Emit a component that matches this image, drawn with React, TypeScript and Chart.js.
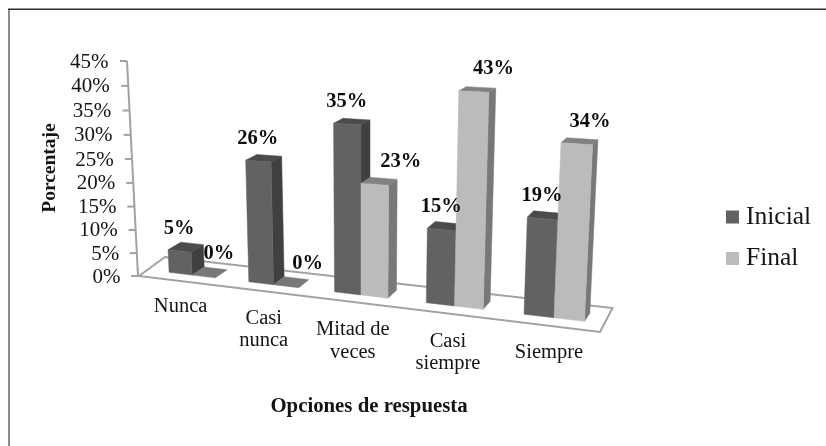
import React, { useEffect, useRef } from "react";
import { Chart, BarController, BarElement, CategoryScale, LinearScale } from "chart.js";

const categories: string[][] = [["Nunca"], ["Casi", "nunca"], ["Mitad de", "veces"], ["Casi", "siempre"], ["Siempre"]];
const inicialValues = [5, 26, 35, 15, 19];
const finalValues = [0, 0, 23, 43, 34];
const yTicks = [0, 5, 10, 15, 20, 25, 30, 35, 40, 45];

const FONT = '"Liberation Serif", "Times New Roman", serif';
const INK = "#141414";
const AXIS = "#a2a2a2";
const SERIES = [
  { name: "Inicial", values: inicialValues, front: "#626262", side: "#404040", top: "#4b4b4b" },
  { name: "Final", values: finalValues, front: "#bbbbbb", side: "#787878", top: "#828282" },
];

/* Perspective of the picture: flat scale pixels -> oblique screen position. */
function project(chart: any, px: number, py: number, depth = 0) {
  const a = chart.chartArea;
  const u = (px - a.left) / (a.right - a.left);
  const hf = (a.bottom - py) / (a.bottom - a.top);
  const pct = hf * 45;
  const x0 = 153.5 + 377.5 * u + 75 * u * u;
  const y0 = 272 + 0.1178 * (x0 - 166);
  const h = pct * (4.5 + 0.72 * u);
  const lean = -0.05 + 0.1 * u;
  return {
    x: x0 + lean * h + depth * (13 - 8 * u),
    y: y0 - h - depth * (8 - 4 * hf),
    u,
  };
}

function face(ctx: CanvasRenderingContext2D, pts: { x: number; y: number }[], fill: string) {
  ctx.beginPath();
  pts.forEach((p, i) => (i ? ctx.lineTo(p.x, p.y) : ctx.moveTo(p.x, p.y)));
  ctx.closePath();
  ctx.fillStyle = fill;
  ctx.fill();
  ctx.strokeStyle = fill;
  ctx.lineWidth = 0.5;
  ctx.stroke();
}

class Bar3DElement extends BarElement {
  static id = "bar3d";
  draw(ctx: CanvasRenderingContext2D) {
    const { x, y, base, width, options } = (this as any).getProps(["x", "y", "base", "width", "options"]);
    const chart = Chart.getChart(ctx.canvas);
    const [front, side, top] = options.backgroundColor.split("|");
    const l = x - width / 2;
    const r = x + width / 2;
    const P = (px: number, py: number, d = 0) => project(chart, px, py, d);
    ctx.save();
    if (base - y < 0.5) {
      face(ctx, [P(l, y), P(r, y), P(r, y, 1), P(l, y, 1)], side);
    } else {
      face(ctx, [P(r, y), P(r, base), P(r, base, 1), P(r, y, 1)], side);
      face(ctx, [P(l, y), P(r, y), P(r, y, 1), P(l, y, 1)], top);
      face(ctx, [P(l, y), P(r, y), P(r, base), P(l, base)], front);
    }
    ctx.restore();
  }
}

class Bar3DController extends BarController {
  static id = "bar3d";
  static defaults = { ...BarController.defaults, dataElementType: "bar3d" };
  static overrides = BarController.overrides;
}

Chart.register(Bar3DController, Bar3DElement, BarElement, CategoryScale, LinearScale);

const scenePlugin = {
  id: "scene",
  beforeDatasetsDraw(chart: any) {
    const ctx: CanvasRenderingContext2D = chart.ctx;
    const yScale = chart.scales.y;
    ctx.save();
    // frame: only the top and left edges of the original show
    ctx.lineWidth = 2;
    ctx.strokeStyle = "#8c8c8c";
    ctx.beginPath();
    ctx.moveTo(9, 9);
    ctx.lineTo(9, 446);
    ctx.stroke();
    ctx.lineWidth = 1.5;
    ctx.strokeStyle = "#2e2e2e";
    ctx.beginPath();
    ctx.moveTo(8, 9.25);
    ctx.lineTo(826, 9.25);
    ctx.stroke();

    // floor
    ctx.strokeStyle = AXIS;
    ctx.lineWidth = 2;
    ctx.beginPath();
    ctx.moveTo(139, 276);
    ctx.lineTo(600, 332);
    ctx.lineTo(612.5, 308);
    ctx.lineTo(165, 257);
    ctx.closePath();
    ctx.stroke();

    // wall axis, ticks and labels
    const a = chart.chartArea;
    const wallY = (hf: number) => a.bottom - (205 * hf + 10 * hf * hf);
    ctx.beginPath();
    ctx.moveTo(127, wallY(1));
    ctx.lineTo(138, wallY(0));
    ctx.stroke();
    ctx.font = `21px ${FONT}`;
    ctx.fillStyle = INK;
    ctx.textAlign = "right";
    ctx.textBaseline = "middle";
    yTicks.forEach((t) => {
      const hf = (a.bottom - yScale.getPixelForValue(t)) / (a.bottom - a.top);
      const ty = wallY(hf);
      const ax = 138 - 11 * hf;
      ctx.beginPath();
      ctx.moveTo(ax - 7, ty);
      ctx.lineTo(ax, ty);
      ctx.stroke();
      ctx.fillText(`${t}%`, 120.5 - 12 * hf, ty + 1);
    });

    // y title
    ctx.save();
    ctx.translate(50, 168);
    ctx.rotate(-Math.PI / 2);
    ctx.textAlign = "center";
    ctx.font = `bold 19.5px ${FONT}`;
    ctx.fillText("Porcentaje", 0, 0);
    ctx.restore();

    // category labels
    ctx.font = `20.5px ${FONT}`;
    ctx.textAlign = "center";
    categories.forEach((lines, i) => {
      const px = chart.scales.x.getPixelForValue(i);
      const p = project(chart, px, a.bottom);
      const base = 307 + 57.5 * (p.u - 0.1);
      const cx = 153.5 + 377.5 * p.u + 75 * p.u * p.u - (13 - 8 * p.u) + 0.8;
      lines.forEach((line, j) => ctx.fillText(line, cx, base + j * 22.5));
    });

    // x title
    ctx.font = `bold 20.8px ${FONT}`;
    ctx.fillText("Opciones de respuesta", 369, 407);

    // legend
    ctx.textAlign = "left";
    ctx.font = `25.5px ${FONT}`;
    SERIES.forEach((s, i) => {
      const cy = 217 + i * 41.5;
      ctx.fillStyle = s.front;
      ctx.fillRect(726, cy - 6.5, 13, 13);
      ctx.fillStyle = INK;
      ctx.fillText(s.name, 746, cy);
    });
    ctx.restore();
  },
  // Final has to be painted after Inicial so its face covers Inicial's side.
  beforeDatasetDraw(_chart: any, args: any) {
    if (args.index === 1) return false;
  },
  afterDatasetDraw(chart: any, args: any) {
    if (args.index === 0) chart.getDatasetMeta(1).controller.draw();
  },
  afterDatasetsDraw(chart: any) {
    const ctx: CanvasRenderingContext2D = chart.ctx;
    ctx.save();
    ctx.font = `bold 20.5px ${FONT}`;
    ctx.fillStyle = "#0c0c0c";
    ctx.textAlign = "center";
    ctx.textBaseline = "middle";
    SERIES.forEach((s, di) => {
      chart.getDatasetMeta(di).data.forEach((el: any, i: number) => {
        const l = project(chart, el.x - el.width / 2, el.y);
        const r = project(chart, el.x + el.width / 2, el.y);
        const u = (l.u + r.u) / 2;
        const shift = di === 0 ? -0.5 : 27 - 32 * Math.abs(u - 0.5);
        ctx.fillText(`${s.values[i]}%`, (l.x + r.x) / 2 + shift, (l.y + r.y) / 2 - 22.5);
      });
    });
    ctx.restore();
  },
};

export default function App() {
  const ref = useRef<HTMLCanvasElement>(null);
  useEffect(() => {
    document.body.style.margin = "0";
    document.body.style.background = "#ffffff";
    const chart = new Chart(ref.current as HTMLCanvasElement, {
      type: "bar3d" as any,
      data: {
        labels: categories,
        datasets: SERIES.map((s) => ({
          label: s.name,
          data: s.values,
          backgroundColor: `${s.front}|${s.side}|${s.top}`,
          categoryPercentage: 0.59,
          barPercentage: 1,
          clip: false,
        })),
      },
      options: {
        animation: false,
        responsive: false,
        events: [],
        layout: { padding: { left: 139, right: 226, top: 61, bottom: 170 } },
        scales: {
          x: { type: "category", display: false },
          y: { type: "linear", display: false, min: 0, max: 45, ticks: { stepSize: 5 } },
        },
        plugins: { legend: { display: false }, tooltip: { enabled: false } },
      },
      plugins: [scenePlugin],
    } as any);
    return () => chart.destroy();
  }, []);
  return <canvas ref={ref} width={826} height={446} style={{ display: "block" }} />;
}
